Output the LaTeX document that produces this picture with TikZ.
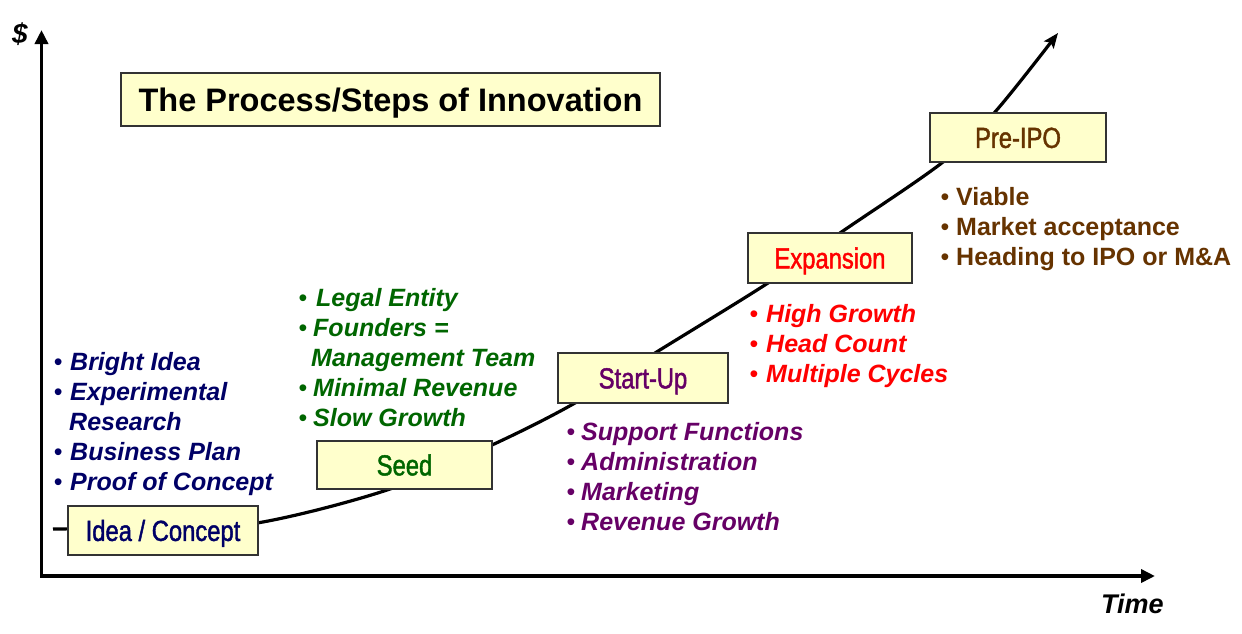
\documentclass[tikz,border=0pt]{standalone}
\usepackage{fontspec}
\setmainfont{Liberation Sans}
\newfontfamily\narrowfont{Liberation Sans}[FakeStretch=0.82,FakeBold=1.5]
\usetikzlibrary{arrows.meta}
\definecolor{boxfill}{HTML}{FFFFCC}
\definecolor{boxline}{HTML}{333333}
\definecolor{navyc}{HTML}{000066}
\definecolor{greenc}{HTML}{006600}
\definecolor{purplec}{HTML}{660066}
\definecolor{redc}{HTML}{FF0000}
\definecolor{brownc}{HTML}{663300}
\begin{document}
\begin{tikzpicture}[x=1pt,y=-1pt,
  stagebox/.style={draw=boxline, line width=1.5pt, fill=boxfill, inner sep=0pt,
    font=\narrowfont\fontsize{29}{29}\selectfont, text height=20.8pt, text depth=0pt},
  titlebox/.style={draw=boxline, line width=1.5pt, fill=boxfill, inner sep=0pt,
    font=\bfseries\fontsize{32.5}{33}\selectfont, text height=23.3pt, text depth=0pt},
  item/.style={anchor=base west, inner sep=0pt, font=\bfseries\itshape\fontsize{25}{30}\selectfont},
  pitem/.style={anchor=base west, inner sep=0pt, font=\bfseries\fontsize{25}{30}\selectfont},
  bul/.style={anchor=base, inner sep=0pt, font=\fontsize{25}{30}\selectfont},
  axislabel/.style={anchor=base west, inner sep=0pt, font=\bfseries\itshape\fontsize{27}{30}\selectfont},
  axisline/.style={line width=3.6pt, line join=miter},
  growth/.style={line width=3.2pt, -{Stealth[length=15pt,width=12pt,inset=3pt]}}
]
\useasboundingbox[fill=white] (0,0) rectangle (1242,633);

% axes
\coordinate (ytop) at (41.5,30);
\coordinate (orig) at (41.5,576);
\coordinate (xend) at (1155,576);
\draw[axisline, {Triangle[length=14pt,width=13pt]}-{Triangle[length=14pt,width=13pt]}] (ytop) -- (orig) -- (xend);
\node[axislabel, font=\bfseries\itshape\fontsize{28}{30}\selectfont] (dollar) at (12,43) {\$};
\node[axislabel] (time) at (1101,613) {Time};

% growth curve
\draw[growth] plot[smooth, tension=0.55] coordinates {(53,529) (160,527.5) (257,523) (387,490) (492,445) (575,403) (655,353) (768,283) (840,233) (943,162) (995,112) (1058,33)};

% title
\node[titlebox, minimum width=539pt, minimum height=53pt] (title) at (390.5,99.5) {The Process/Steps of Innovation};

% stage boxes
\node[stagebox, text=navyc, minimum width=190pt, minimum height=49pt] (idea) at (163,530.5) {Idea / Concept};
\node[stagebox, text=greenc, minimum width=175pt, minimum height=48pt] (seed) at (404.5,465) {Seed};
\node[stagebox, text=purplec, minimum width=170pt, minimum height=50pt] (startup) at (643,378) {Start-Up};
\node[stagebox, text=redc, minimum width=164pt, minimum height=50pt] (expansion) at (830,258) {Expansion};
\node[stagebox, text=brownc, minimum width=176pt, minimum height=49pt] (preipo) at (1018,137.5) {Pre-IPO};

% idea list
\begin{scope}[every node/.append style={text=navyc}]
\node[bul] (ib1) at (58.3,370.5) {•};
\node[item] (it1) at (70,370.5) {Bright Idea};
\node[bul] (ib2) at (58.3,400.5) {•};
\node[item] (it2) at (70,400.5) {Experimental};
\node[item] (it3) at (69,430.5) {Research};
\node[bul] (ib4) at (58.3,460.5) {•};
\node[item] (it4) at (70,460.5) {Business Plan};
\node[bul] (ib5) at (58.3,490) {•};
\node[item] (it5) at (70,490) {Proof of Concept};
\end{scope}

% seed list
\begin{scope}[every node/.append style={text=greenc}]
\node[bul] (sb1) at (303,306.5) {•};
\node[item] (st1) at (316,306.5) {Legal Entity};
\node[bul] (sb2) at (303,336.5) {•};
\node[item] (st2) at (313,336.5) {Founders =};
\node[item] (st3) at (311,366.5) {Management Team};
\node[bul] (sb4) at (303,396.5) {•};
\node[item] (st4) at (313,396.5) {Minimal Revenue};
\node[bul] (sb5) at (303,426.5) {•};
\node[item] (st5) at (313,426.5) {Slow Growth};
\end{scope}

% start-up list
\begin{scope}[every node/.append style={text=purplec}]
\node[bul] (ub1) at (571,440.5) {•};
\node[item] (ut1) at (581,440.5) {Support Functions};
\node[bul] (ub2) at (571,470.5) {•};
\node[item] (ut2) at (581,470.5) {Administration};
\node[bul] (ub3) at (571,500.5) {•};
\node[item] (ut3) at (581,500.5) {Marketing};
\node[bul] (ub4) at (571,530.5) {•};
\node[item] (ut4) at (581,530.5) {Revenue Growth};
\end{scope}

% expansion list
\begin{scope}[every node/.append style={text=redc}]
\node[bul] (eb1) at (754,322) {•};
\node[item] (et1) at (766,322) {High Growth};
\node[bul] (eb2) at (754,352) {•};
\node[item] (et2) at (766,352) {Head Count};
\node[bul] (eb3) at (754,382.5) {•};
\node[item] (et3) at (766,382.5) {Multiple Cycles};
\end{scope}

% pre-IPO list
\begin{scope}[every node/.append style={text=brownc}]
\node[bul] (pb1) at (945,205) {•};
\node[pitem] (pt1) at (956,205) {Viable};
\node[bul] (pb2) at (945,235) {•};
\node[pitem] (pt2) at (956,235) {Market acceptance};
\node[bul] (pb3) at (945,265) {•};
\node[pitem] (pt3) at (956,265) {Heading to IPO or M\&A};
\end{scope}
\end{tikzpicture}
\end{document}
